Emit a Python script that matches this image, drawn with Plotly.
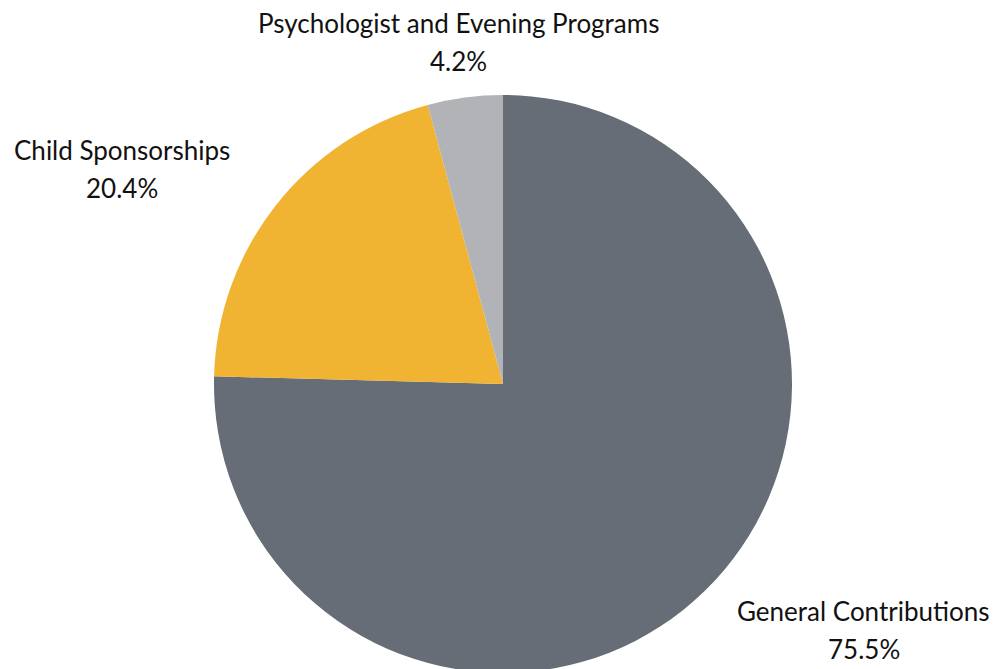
import plotly.graph_objects as go

labels = ["General Contributions", "Child Sponsorships", "Psychologist and Evening Programs"]
values = [75.5, 20.4, 4.2]
colors = ["#666d76", "#f0b432", "#b2b3b7"]

# label anchor positions in paper coords (x, y of first line)
label_pos = [(0.855, 0.099), (0.114, 0.788), (0.450, 0.977)]
line_gap = 0.0568

fig = go.Figure(go.Pie(
    labels=labels,
    values=values,
    sort=False,
    direction="clockwise",
    rotation=0,
    marker=dict(colors=colors, line=dict(width=0)),
    textinfo="none",
    hoverinfo="label+percent",
    domain=dict(x=[0, 0.989], y=[0.006, 0.870]),
    showlegend=False,
))

font = dict(family="Lato, 'Open Sans', sans-serif", size=26, color="#111111")
for lab, val, (x, y) in zip(labels, values, label_pos):
    fig.add_annotation(x=x, y=y, xref="paper", yref="paper", text=lab,
                       showarrow=False, xanchor="center", yanchor="middle", font=font)
    fig.add_annotation(x=x, y=y - line_gap, xref="paper", yref="paper", text=f"{val}%",
                       showarrow=False, xanchor="center", yanchor="middle", font=font)

fig.update_layout(
    width=1001, height=669,
    margin=dict(l=0, r=0, t=0, b=0),
    paper_bgcolor="white", plot_bgcolor="white",
)

fig.write_html("out.html")
